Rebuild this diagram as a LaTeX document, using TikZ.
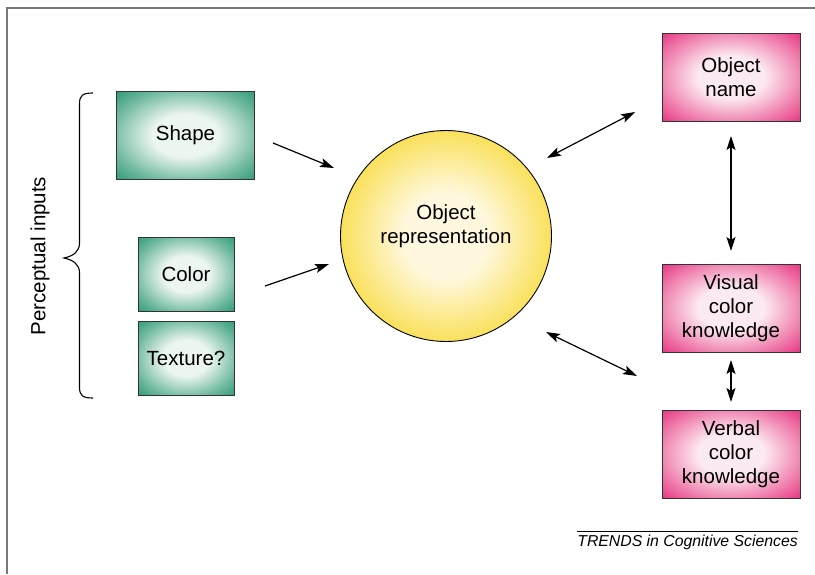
\documentclass[tikz,border=0pt]{standalone}
\usepackage{fontspec}
\setmainfont{Liberation Sans}
\usetikzlibrary{arrows.meta}
\definecolor{grn}{RGB}{18,138,104}
\definecolor{grnm}{RGB}{110,185,158}
\definecolor{grnc}{RGB}{236,246,240}
\definecolor{pnk}{RGB}{226,18,110}
\definecolor{pnkm}{RGB}{238,120,168}
\definecolor{pnkc}{RGB}{252,234,242}
\definecolor{ylw}{RGB}{246,206,10}
\definecolor{ylwm}{RGB}{250,226,100}
\definecolor{ylwc}{RGB}{255,248,222}
\definecolor{framegray}{RGB}{120,120,120}
\pgfdeclareradialshading{greenglow}{\pgfpoint{0bp}{0bp}}{color(0bp)=(grnc); color(12bp)=(grnc); color(27bp)=(grnm); color(40bp)=(grn); color(50bp)=(grn)}
\pgfdeclareradialshading{pinkglow}{\pgfpoint{0bp}{0bp}}{color(0bp)=(pnkc); color(12bp)=(pnkc); color(27bp)=(pnkm); color(40bp)=(pnk); color(50bp)=(pnk)}
\pgfdeclareradialshading{yellowglow}{\pgfpoint{0bp}{0bp}}{color(0bp)=(ylwc); color(10bp)=(ylwc); color(24bp)=(ylwm); color(33bp)=(ylw); color(50bp)=(ylw)}
\tikzset{
  lbl/.style={font=\fontsize{20.5}{24}\selectfont, align=center, text=black},
  gbox/.style={lbl, draw=black!80, line width=0.8pt, shading=greenglow, inner sep=0pt, outer sep=0pt},
  pbox/.style={lbl, draw=black!80, line width=0.8pt, shading=pinkglow, inner sep=0pt, outer sep=0pt, minimum width=138pt, minimum height=88pt},
  conn/.style={line width=1.2pt, -{Stealth[length=14pt,width=9pt,inset=3pt]}},
  dconn/.style={line width=1.2pt, {Stealth[length=14pt,width=9pt,inset=3pt]}-{Stealth[length=14pt,width=9pt,inset=3pt]}},
  framel/.style={draw=framegray, line width=1.6pt}
}
\begin{document}
\begin{tikzpicture}[x=1pt,y=-1pt]
\useasboundingbox (0,0) rectangle (815,574);
% frame
\coordinate (ftr) at (815,8);
\coordinate (ftl) at (7,8);
\coordinate (fbl) at (7,574);
\draw[framel] (ftr) -- (ftl) -- (fbl);

% perceptual boxes
\node[gbox, minimum width=138pt, minimum height=88pt] (shape) at (185.5,135.5) {Shape};
\node[gbox, minimum width=96pt, minimum height=74pt] (color) at (186,274) {Color};
\node[gbox, minimum width=96pt, minimum height=74pt] (texture) at (186,358) {Texture?};

% brace
\draw[line width=1.1pt] (93,93) .. controls (83,93) and (79.5,95) .. (79.5,104) -- (79.5,243)
  .. controls (79.5,252) and (73,256) .. (64,258)
  .. controls (73,260) and (79.5,264) .. (79.5,273) -- (79.5,387)
  .. controls (79.5,396) and (83,398) .. (93,398);
\node[lbl, rotate=90] (perc) at (40,256) {Perceptual inputs};

% circle
\node[circle, draw=black, line width=0.9pt, shading=yellowglow, minimum size=211pt, inner sep=0pt, outer sep=0pt] (obj) at (446,236) {};
\node[lbl] (objtxt) at (446,226) {Object\\representation};

% right boxes
\node[pbox] (name) at (731,77) {Object\\name};
\node[pbox] (visual) at (731,308) {Visual\\color\\knowledge};
\node[pbox] (verbal) at (731,454) {Verbal\\color\\knowledge};

% arrow end coordinates
\coordinate (s1) at (273,143);
\coordinate (s2) at (334,168);
\coordinate (c1) at (265,286);
\coordinate (c2) at (329,264);
\coordinate (n1) at (547,158);
\coordinate (n2) at (635,112);
\coordinate (v1) at (546,332);
\coordinate (v2) at (637,376);

\draw[conn] (s1) -- (s2);
\draw[conn] (c1) -- (c2);
\draw[dconn] (n1) -- (n2);
\draw[dconn] (v1) -- (v2);
\draw[dconn] ([yshift=-15pt]name.south) -- ([yshift=13pt]visual.north);
\draw[dconn] ([yshift=-8pt]visual.south) -- ([yshift=8pt]verbal.north);

% credit
\coordinate (t1) at (577,531);
\coordinate (t2) at (798,531);
\draw[line width=0.7pt] (t1) -- (t2);
\node[anchor=north east, inner sep=0pt, font=\fontsize{15.8}{18}\selectfont\itshape] (credit) at (798,535) {TRENDS in Cognitive Sciences};
\end{tikzpicture}
\end{document}
